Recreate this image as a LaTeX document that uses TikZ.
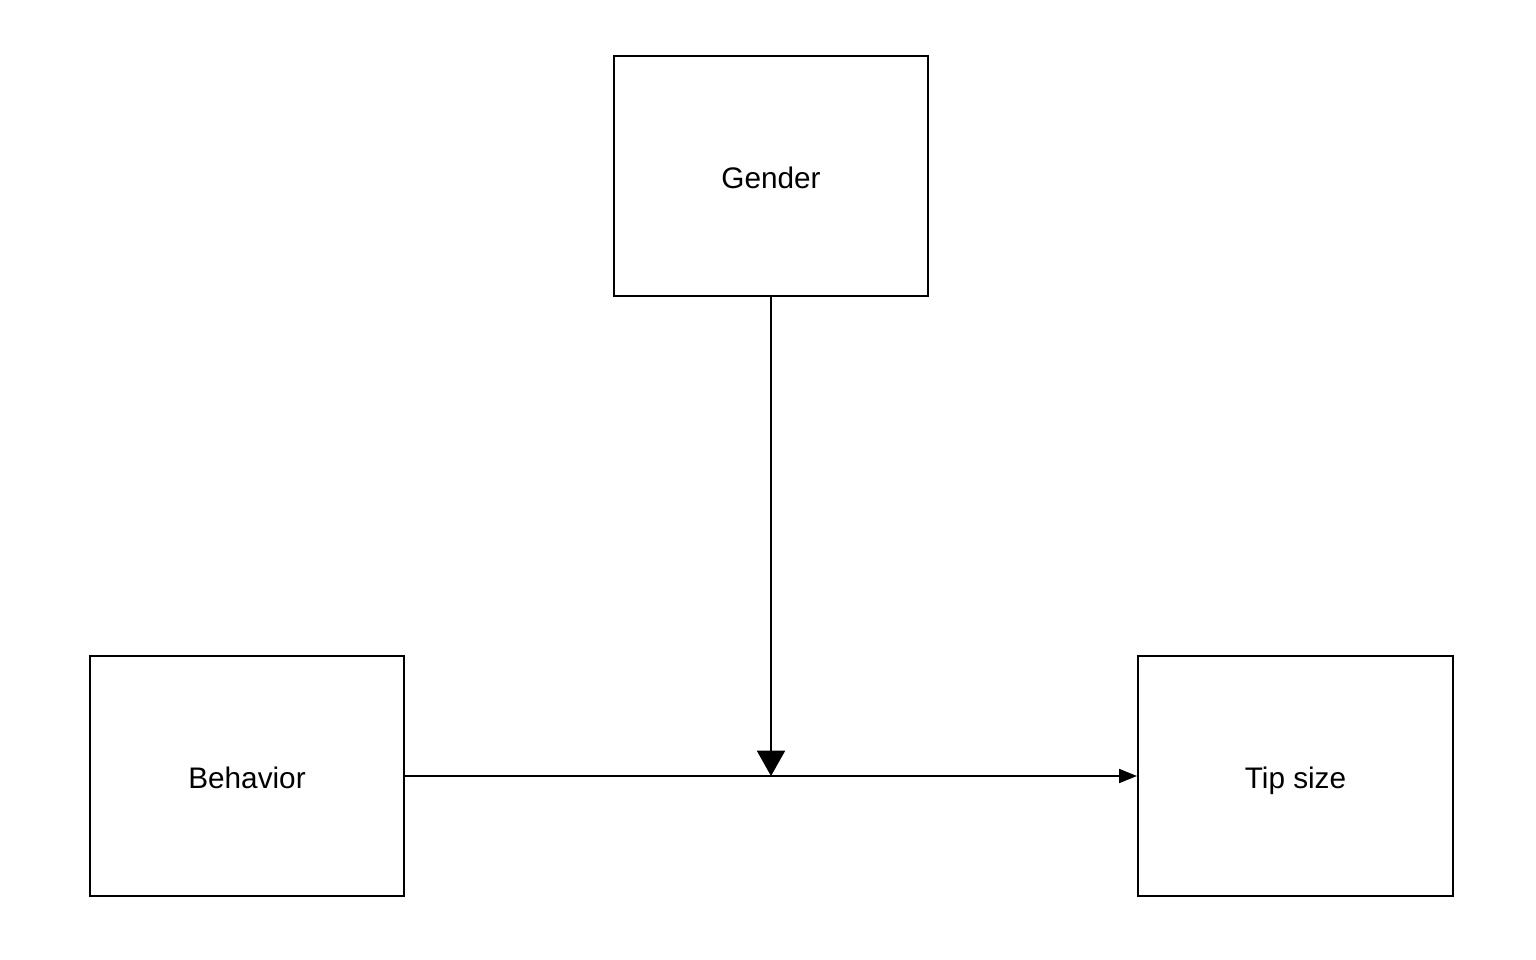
\documentclass[tikz,border=0pt]{standalone}
\usepackage{fontspec}
\setmainfont{Liberation Sans}
\usetikzlibrary{arrows.meta}
\begin{document}
\begin{tikzpicture}[x=0.75pt,y=-0.75pt,
  box/.style={draw,line width=1.5pt,minimum width=235.5pt,minimum height=180pt,inner sep=0pt,text height=18pt,text depth=0pt,font=\fontsize{22.3}{26}\selectfont},
  conn/.style={line width=1.5pt}]
\useasboundingbox (0,0) rectangle (1536,960);
\node[box] (gender) at (771,176) {Gender};
\node[box] (behavior) at (247,776) {Behavior};
\node[box,minimum width=236.25pt] (tip) at (1295.5,776) {Tip size};
\coordinate (m) at (771,776);
\draw[conn,-{Triangle[width=10.5pt,length=13.5pt]}] (behavior.east) -- (tip.west);
\draw[conn,-{Triangle[width=21pt,length=19pt]}] (gender.south) -- (m);
\end{tikzpicture}
\end{document}
